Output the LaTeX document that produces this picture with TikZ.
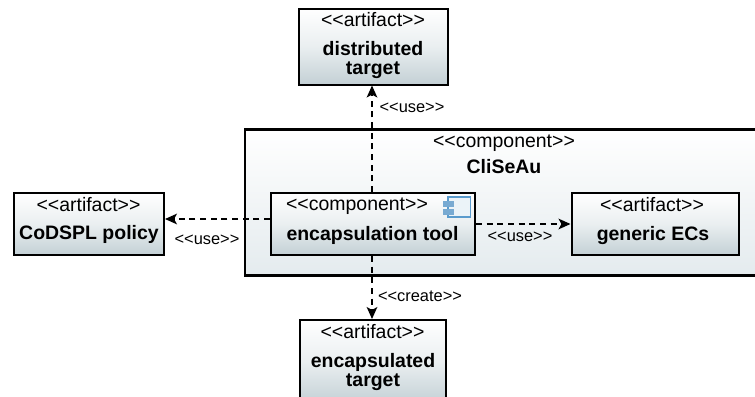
\documentclass[tikz,border=0pt]{standalone}
\usepackage{fontspec}
\setmainfont{Liberation Sans}[Ligatures=TeXOff]
\usetikzlibrary{arrows.meta}

\definecolor{boxshade}{RGB}{195,208,213}
\definecolor{outershade}{RGB}{228,235,238}
\definecolor{iconblue}{RGB}{90,155,205}
\definecolor{icontab}{RGB}{120,170,210}
\definecolor{iconbody}{RGB}{235,243,248}

\tikzset{
	umlbox/.style={draw=black,line width=1.5pt,top color=white,bottom color=boxshade,middle color=boxshade!35,minimum width=#1,inner sep=0pt},
	stereo/.style={font=\fontsize{14.6}{17}\selectfont,inner sep=0pt},
	boxname/.style={font=\fontsize{14.6}{14.3}\selectfont\bfseries,align=center,inner sep=0pt},
	deplabel/.style={font=\fontsize{12.3}{14}\selectfont,inner sep=0pt},
	deparrow/.style={line width=1.1pt,dash pattern=on 4.5pt off 3.5pt,-{Stealth[inset=2.2pt,length=9pt,width=8pt]}}
}

\begin{document}
\begin{tikzpicture}[x=0.75pt,y=0.75pt,yscale=-1,xscale=1]
	\useasboundingbox (0,0) rectangle (755,396);
	\clip (0,0) rectangle (755,396);
	% outer component
	\node (cliseau) [draw=black,line width=2.1pt,top color=white,bottom color=outershade,minimum width=412.5pt,minimum height=109.5pt,inner sep=0pt] at (520,202.5) {};
	% boxes
	\node (tool) [umlbox=153pt,minimum height=46.5pt] at (373,224) {};
	\node (generic) [umlbox=125.25pt,minimum height=46.5pt] at (655,224) {};
	\node (policy) [umlbox=112.5pt,minimum height=46.5pt] at (89,224) {};
	\node (distributed) [umlbox=111.75pt,minimum height=57pt] at (373,46.5) {};
	\node (encapsulated) [umlbox=109.5pt,minimum height=63pt] at (373,362) {};
	% texts
	\node (cliseaustereo) [stereo] at (504,143) {<<component>>};
	\node (cliseauname) [boxname] at (504,167) {CliSeAu};
	\node (toolstereo) [stereo] at (357,206) {<<component>>};
	\node (toolname) [boxname] at (372.5,235.5) {encapsulation tool};
	\node (genericstereo) [stereo] at (652,205) {<<artifact>>};
	\node (genericname) [boxname] at (653,235.5) {generic ECs};
	\node (policystereo) [stereo] at (88.5,204.5) {<<artifact>>};
	\node (policyname) [boxname] at (89,234.5) {CoDSPL policy};
	\node (distributedstereo) [stereo] at (373,19.5) {<<artifact>>};
	\node (distributedname) [boxname] at (373,60) {distributed\\target};
	\node (encapsulatedstereo) [stereo] at (372.5,331.5) {<<artifact>>};
	\node (encapsulatedname) [boxname] at (373,372) {encapsulated\\target};
	% dependencies
	\draw[deparrow] ([xshift=-0.75pt]tool.north) -- ([xshift=-0.75pt]distributed.south);
	\draw[deparrow] ([xshift=-0.75pt]tool.south) -- ([xshift=-0.75pt]encapsulated.north);
	\draw[deparrow] ([yshift=-3.75pt]tool.west) -- ([yshift=-3.75pt]policy.east);
	\draw[deparrow] (tool.east) -- (generic.west);
	\node (uselabeltop) [deplabel] at (412,107.5) {<<use>>};
	\node (uselabelleft) [deplabel] at (207,240) {<<use>>};
	\node (uselabelright) [deplabel] at (520,237) {<<use>>};
	\node (createlabel) [deplabel] at (420,296) {<<create>>};
	% component icon
	\draw[iconblue,line width=1pt,fill=iconbody] (448,197) rectangle (470.5,217);
	\draw[icontab,fill=icontab] (443.5,201) rectangle (453,206.5);
	\draw[icontab,fill=icontab] (443.5,209) rectangle (453,214.5);
\end{tikzpicture}
\end{document}
